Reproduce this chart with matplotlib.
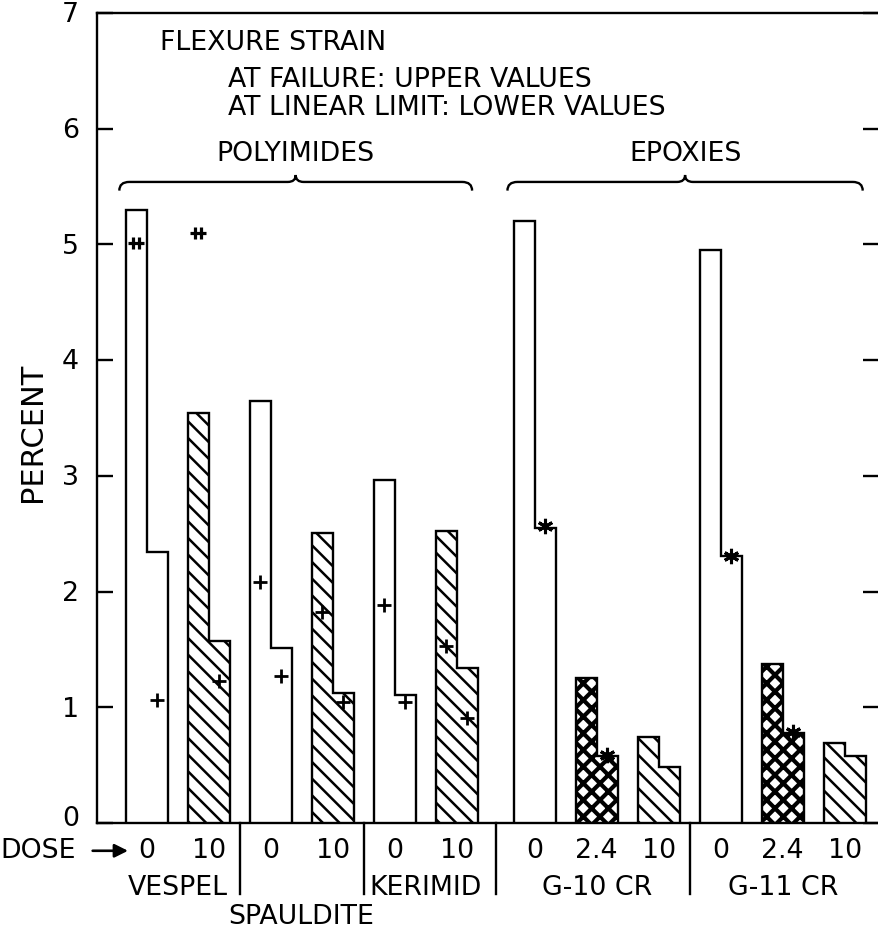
import numpy as np
import matplotlib
matplotlib.use("Agg")
import matplotlib.pyplot as plt
from matplotlib.path import Path
from matplotlib.patches import PathPatch
import matplotlib.transforms as mtransforms

# ---------------- data ----------------
families = ["POLYIMIDES", "EPOXIES"]
materials = ["VESPEL", "SPAULDITE", "KERIMID", "G-10 CR", "G-11 CR"]
doses = ["0", "10", "0", "10", "0", "10", "0", "2.4", "10", "0", "2.4", "10"]
material_of = [0, 0, 1, 1, 2, 2, 3, 3, 3, 4, 4, 4]
family_of = [0, 0, 0, 0, 0, 0, 1, 1, 1, 1, 1, 1]
failure = [5.30, 3.54, 3.65, 2.51, 2.96, 2.52, 5.20, 1.25, 0.74, 4.95, 1.37, 0.69]
linear = [2.34, 1.57, 1.51, 1.12, 1.11, 1.34, 2.55, 0.58, 0.48, 2.31, 0.78, 0.58]
nan = np.nan
upper_pts = [5.01, 5.10, 2.08, 1.82, 1.88, 1.53, nan, nan, nan, nan, nan, nan]
upper_sym = ["dbl", "dbl", "+", "+", "+", "+", "", "", "", "", "", ""]
lower_pts = [1.06, 1.23, 1.27, 1.05, 1.05, 0.91, 2.57, 0.59, nan, 2.31, 0.79, nan]
lower_sym = ["+", "+", "+", "+", "+", "+", "star", "star", "", "star", "star", ""]
yticks = [0, 1, 2, 3, 4, 5, 6, 7]

# ---------------- style ----------------
plt.rcParams["font.family"] = ["DejaVu Sans"]
plt.rcParams["hatch.color"] = "black"
FS = 19.3
W, H = 879, 932
fig = plt.figure(figsize=(W / 100, H / 100), dpi=100)
ax = fig.add_axes([97 / W, 1 - 823 / H, (879 - 97) / W, (823 - 13) / H])
ax.set_xlim(0, 782 / 62)
ax.set_ylim(0, 7)

n = len(doses)
pos = np.array([0.8 + i + 0.26 * family_of[i] for i in range(n)])
w = 0.34

hatch_of = {"0": "", "10": "\\\\", "2.4": "xx"}
hlw_of = {"0": 1.2, "10": 1.8, "2.4": 3.0}

for i in range(n):
    d = doses[i]
    with plt.rc_context({"hatch.linewidth": hlw_of[d]}):
        sp = ax.stairs([failure[i], linear[i]], [pos[i] - w, pos[i], pos[i] + w],
                       baseline=0, fill=True, facecolor="white",
                       edgecolor="black", linewidth=1.7, hatch=hatch_of[d],
                       zorder=2)
    if hasattr(sp, "set_hatch_linewidth"):
        sp.set_hatch_linewidth(hlw_of[d])

# markers
dbl = Path([(-1, 0), (1, 0), (-0.4, -0.8), (-0.4, 0.8), (0.4, -0.8), (0.4, 0.8)],
           [Path.MOVETO, Path.LINETO, Path.MOVETO, Path.LINETO, Path.MOVETO, Path.LINETO])
mk = {"+": dict(marker="+", ms=10, mew=2.0),
      "dbl": dict(marker=dbl, ms=11, mew=2.3),
      "star": dict(marker=(6, 2, 0), ms=11, mew=2.2)}
for i in range(n):
    if upper_sym[i]:
        ax.plot(pos[i] - w / 2, upper_pts[i], color="black", ls="none", zorder=4,
                **mk[upper_sym[i]])
    if lower_sym[i]:
        ax.plot(pos[i] + w / 2, lower_pts[i], color="black", ls="none", zorder=4,
                **mk[lower_sym[i]])

# axes styling
for s in ["left", "top", "bottom"]:
    ax.spines[s].set_linewidth(1.7)
ax.spines["right"].set_visible(False)
ax.set_yticks(yticks)
ax.tick_params(axis="y", direction="in", length=11.5, width=1.7,
               left=True, right=True, labelleft=False, labelright=False)
ax.tick_params(axis="x", bottom=False, labelbottom=False)

# y tick labels (drawn as text so the "0" can sit clear of the DOSE row)
ylab_tr = mtransforms.blended_transform_factory(fig.transFigure, ax.transData)
for t in yticks:
    ax.text(79 / W, t + (0.035 if t == 0 else -0.02), str(t), transform=ylab_tr,
            ha="right", va="center", fontsize=FS, clip_on=False)

# dose labels
y_dose = -0.24
for i in range(n):
    ax.text(pos[i], y_dose, doses[i], ha="center", va="center", fontsize=FS,
            clip_on=False)
ax.text(-1.565, y_dose, "DOSE", ha="left", va="center", fontsize=FS, clip_on=False)
ax.annotate("", xy=(0.5, y_dose), xytext=(-0.07, y_dose),
            arrowprops=dict(arrowstyle="-|>", lw=1.9, mutation_scale=20, color="black",
                            shrinkA=0, shrinkB=0),
            annotation_clip=False)

# material labels and separators
for m, name in enumerate(materials):
    idx = [i for i in range(n) if material_of[i] == m]
    xc = np.mean(pos[idx])
    yl = -0.812 if name == "SPAULDITE" else -0.56
    ax.text(xc, yl, name, ha="center", va="center", fontsize=FS, clip_on=False)
for i in range(n - 1):
    if material_of[i] != material_of[i + 1]:
        xs = (pos[i] + pos[i + 1]) / 2
        ax.plot([xs, xs], [0, -0.61], color="black", lw=1.7, clip_on=False)

# family braces
def brace(x0, x1, y, hd=0.075, hu=0.06, rx=0.16):
    xm = (x0 + x1) / 2
    verts = [(x0, y - hd), (x0, y), (x0 + rx, y), (xm - rx * 0.8, y),
             (xm, y), (xm, y + hu), (xm, y), (xm + rx * 0.8, y),
             (x1 - rx, y), (x1, y), (x1, y - hd)]
    codes = [Path.MOVETO, Path.CURVE3, Path.CURVE3, Path.LINETO,
             Path.CURVE3, Path.CURVE3, Path.CURVE3, Path.CURVE3,
             Path.LINETO, Path.CURVE3, Path.CURVE3]
    return Path(verts, codes)

for f, name in enumerate(families):
    idx = [i for i in range(n) if family_of[i] == f]
    x0 = pos[idx[0]] - w - 0.1
    x1 = pos[idx[-1]] + w - (0.09 if f == 0 else 0.05)
    ax.add_patch(PathPatch(brace(x0, x1, 5.54), fill=False, lw=1.7,
                           edgecolor="black", clip_on=False))
    ax.text((x0 + x1) / 2, 5.78, name, ha="center", va="center", fontsize=FS)

# annotation texts
ax.text(1.02, 6.74, "FLEXURE STRAIN", ha="left", va="center", fontsize=FS)
ax.text(2.11, 6.42, "AT FAILURE: UPPER VALUES", ha="left", va="center", fontsize=FS)
ax.text(2.11, 6.18, "AT LINEAR LIMIT: LOWER VALUES", ha="left", va="center", fontsize=FS)

fig.text(33 / W, 1 - 432 / H, "PERCENT", rotation=90, ha="center", va="center",
         fontsize=22)

fig.savefig("out.png", dpi=100, facecolor="white")
